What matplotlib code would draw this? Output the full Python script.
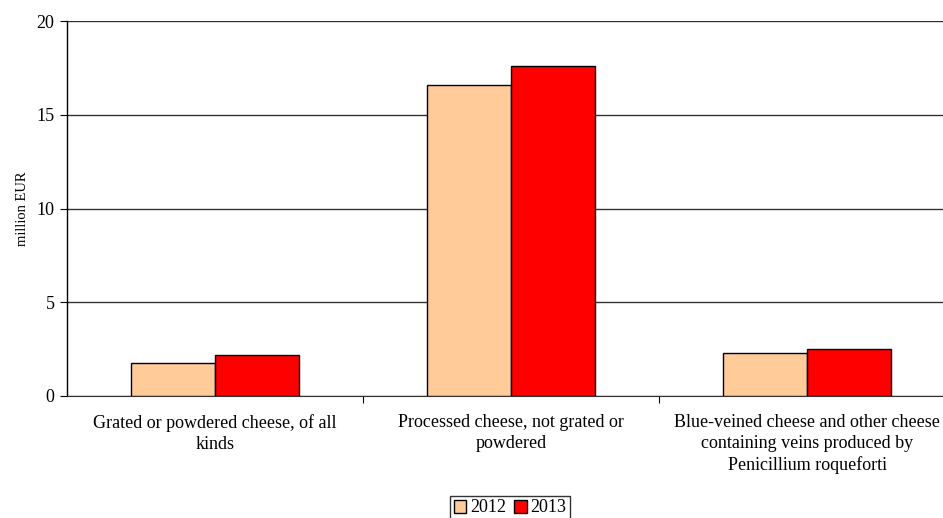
import matplotlib
matplotlib.use("Agg")
import matplotlib.pyplot as plt
import numpy as np

categories = [
    "Grated or powdered cheese, of all\nkinds",
    "Processed cheese, not grated or\npowdered",
    "Blue-veined cheese and other cheese\ncontaining veins produced by\nPenicillium roqueforti",
]
years = ["2012", "2013"]
values_2012 = [1.76, 16.57, 2.28]
values_2013 = [2.19, 17.62, 2.50]
y_ticks = [0, 5, 10, 15, 20]

colors = ["#FFCC99", "#FF0000"]

plt.rcParams["font.family"] = ["Liberation Serif", "DejaVu Serif"]

fig = plt.figure(figsize=(9.43, 5.18), dpi=100)
# plot area runs a little past the right edge of the canvas
ax = fig.add_axes([67 / 943, 1 - 396 / 518, 888 / 943, 375 / 518])

x = np.arange(len(categories))
w = 0.285
ax.bar(x - w / 2, values_2012, w, color=colors[0], edgecolor="black",
       linewidth=1.0, label=years[0], zorder=3)
ax.bar(x + w / 2, values_2013, w, color=colors[1], edgecolor="black",
       linewidth=1.0, label=years[1], zorder=3)

ax.set_xlim(-0.5, len(categories) - 0.5)
ax.set_ylim(0, 20)
ax.set_yticks(y_ticks)
ax.yaxis.grid(True, color="#333333", linewidth=1.0, zorder=0)
ax.tick_params(axis="y", direction="out", length=5, labelsize=13, pad=4)

# category boundaries get the tick marks, labels sit in the middle
ax.set_xticks(x[:-1] + 0.5)
ax.set_xticklabels([])
ax.set_xticks(x, minor=True)
ax.set_xticklabels(categories, minor=True, fontsize=13, linespacing=1.3)
ax.tick_params(axis="x", which="major", direction="out", length=5)
ax.tick_params(axis="x", which="minor", length=0, pad=13)

for side in ("top", "right"):
    ax.spines[side].set_visible(False)
ax.spines["left"].set_linewidth(1.0)
ax.spines["bottom"].set_color("#333333")

ax.set_ylabel("million EUR", fontsize=10.5, labelpad=5)

leg = fig.legend(loc="center", bbox_to_anchor=(510 / 943, 1 - 508 / 518),
                 ncol=2, fontsize=13, frameon=True, fancybox=False,
                 handlelength=0.7, handleheight=0.7, handletextpad=0.2,
                 columnspacing=0.45, borderpad=0.2, borderaxespad=0)
leg.get_frame().set_edgecolor("black")
leg.get_frame().set_linewidth(1.0)

fig.savefig("out.png", dpi=100)
